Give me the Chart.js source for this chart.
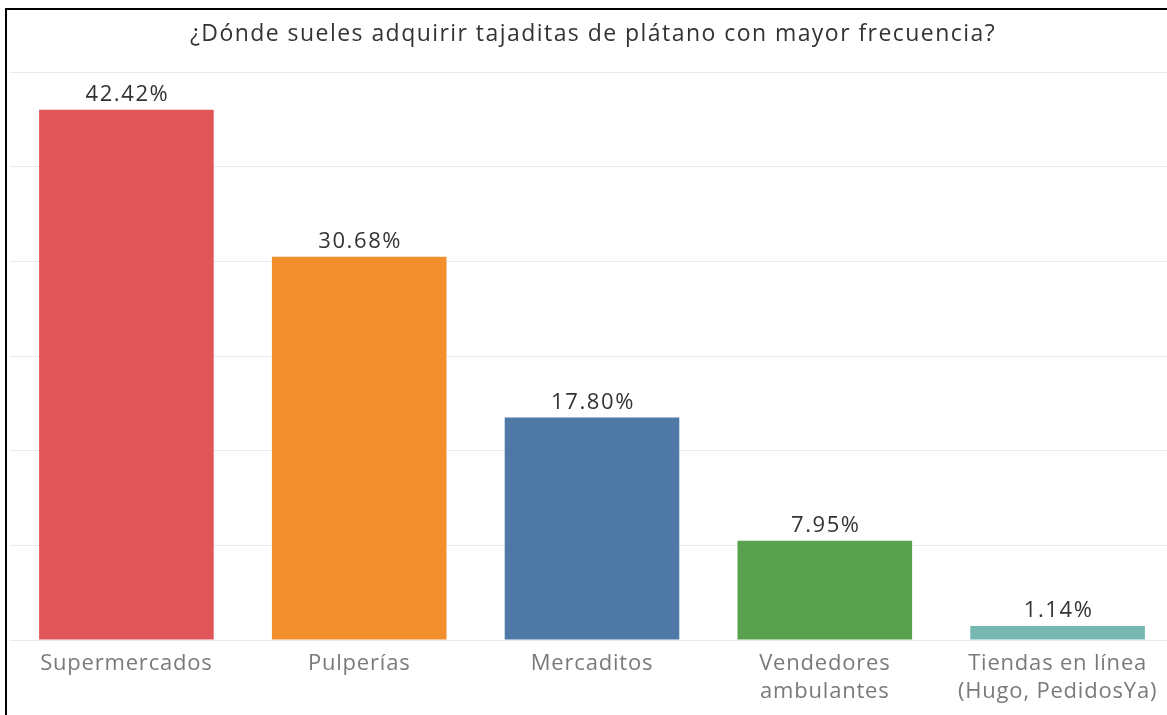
<!DOCTYPE html>
<html>
<head>
<meta charset="utf-8">
<script src="https://cdn.jsdelivr.net/npm/chart.js@4"></script>
<style>
  html, body { margin: 0; padding: 0; background: #fff; overflow: hidden; }
  #frame {
    position: absolute; left: 5px; top: 8px;
    width: 1180px; height: 720px;
    border-left: 2px solid #000; border-top: 2px solid #000;
  }
  #wrap { position: absolute; left: 0; top: 0; width: 1167px; height: 698px; }
</style>
</head>
<body>
<div id="frame"><div id="wrap"><canvas id="chart"></canvas></div></div>
<script>
// respuestas (conteo) y porcentajes mostrados
const titulo = '¿Dónde sueles adquirir tajaditas de plátano con mayor frecuencia?';
const categorias = [
  'Supermercados',
  'Pulperías',
  'Mercaditos',
  ['Vendedores', 'ambulantes'],
  ['Tiendas en línea', '(Hugo, PedidosYa)']
];
const respuestas = [112, 81, 47, 21, 3];
const etiquetas = ['42.42%', '30.68%', '17.80%', '7.95%', '1.14%'];
const colores = ['#e15759', '#f28e2b', '#4e79a7', '#59a14f', '#76b7b2'];

const FONT = '"Open Sans", "Noto Sans", sans-serif';

// la fuente original es un poco mas ancha
const espaciado = {
  id: 'espaciado',
  beforeUpdate(chart) { chart.ctx.letterSpacing = '0.8px'; },
  beforeDraw(chart) { chart.ctx.letterSpacing = '0.8px'; }
};

// titulo arriba + etiquetas encima de cada barra
const textosPlugin = {
  id: 'textos',
  afterDatasetsDraw(chart) {
    const ctx = chart.ctx;
    const meta = chart.getDatasetMeta(0);
    ctx.save();
    ctx.letterSpacing = '1.6px';
    ctx.font = '22px ' + FONT;
    ctx.fillStyle = '#333333';
    ctx.textAlign = 'center';
    ctx.textBaseline = 'alphabetic';
    meta.data.forEach((bar, i) => {
      ctx.fillText(etiquetas[i], bar.x + 1, bar.y - 9);
    });
    ctx.restore();
  },
  afterDraw(chart) {
    const ctx = chart.ctx;
    const area = chart.chartArea;
    ctx.save();
    ctx.letterSpacing = '1.45px';
    ctx.font = '23px ' + FONT;
    ctx.fillStyle = '#333333';
    ctx.textAlign = 'center';
    ctx.textBaseline = 'alphabetic';
    ctx.fillText(titulo, (area.left + area.right) / 2 + 1, 31);
    ctx.restore();
  }
};

new Chart(document.getElementById('chart'), {
  type: 'bar',
  data: {
    labels: categorias,
    datasets: [{
      data: respuestas,
      backgroundColor: colores,
      barPercentage: 0.75,
      categoryPercentage: 1
    }]
  },
  options: {
    responsive: true,
    maintainAspectRatio: false,
    animation: false,
    layout: { padding: { left: 3, right: 0, top: 62, bottom: 0 } },
    plugins: {
      legend: { display: false },
      tooltip: { enabled: false },
      title: { display: false }
    },
    scales: {
      x: {
        grid: { display: false },
        border: { display: false },
        ticks: {
          color: '#7a7a7a',
          font: { family: FONT, size: 22, lineHeight: 1.27 },
          padding: 2,
          maxRotation: 0,
          autoSkip: false
        }
      },
      y: {
        min: 0,
        max: 120,
        ticks: { display: false, stepSize: 20 },
        grid: { color: '#ebebeb', lineWidth: 1, drawTicks: false },
        border: { display: false }
      }
    }
  },
  plugins: [espaciado, textosPlugin]
});
</script>
</body>
</html>
